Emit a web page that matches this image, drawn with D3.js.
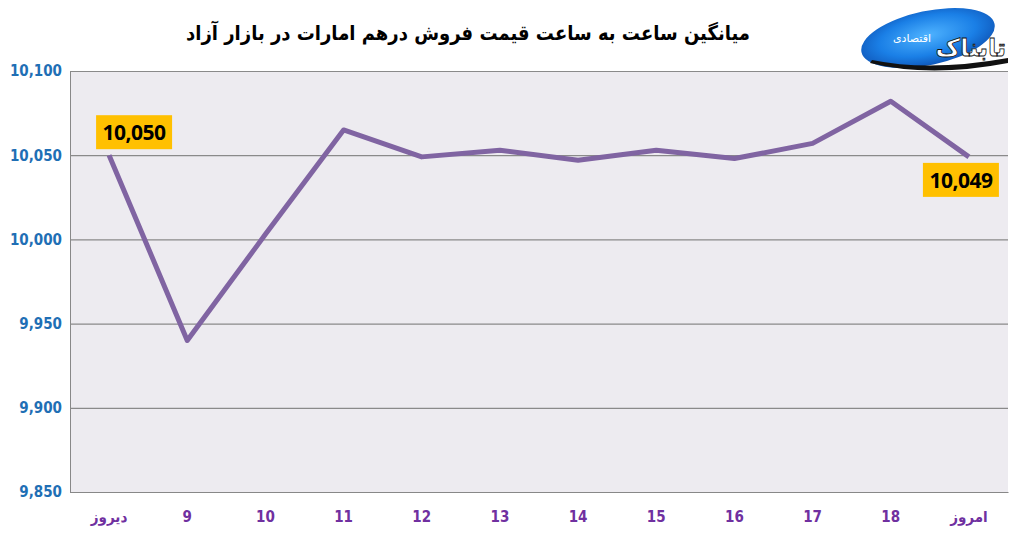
<!DOCTYPE html>
<html>
<head>
<meta charset="utf-8">
<script src="https://cdn.jsdelivr.net/npm/d3@7"></script>
<style>
  body { margin: 0; background: #fff; }
  #chart { width: 1015px; height: 536px; }
</style>
</head>
<body>
<div id="chart"></div>
<script>
// DATA
const categories = ["دیروز", "9", "10", "11", "12", "13", "14", "15", "16", "17", "18", "امروز"];
const values = [10050, 9940, 10003, 10065, 10049, 10053, 10047, 10053, 10048, 10057, 10082, 10049];
const yTicks = [9850, 9900, 9950, 10000, 10050, 10100];
const title = "میانگین ساعت به ساعت قیمت فروش درهم امارات در بازار آزاد";

const width = 1015, height = 536;
const margin = {top: 71, right: 7, bottom: 44, left: 70};

const svg = d3.select("#chart").append("svg")
  .attr("width", width)
  .attr("height", height);

// SCALES
const x = d3.scaleBand()
  .domain(categories)
  .range([margin.left, width - margin.right]);

const y = d3.scaleLinear()
  .domain([9850, 10100])
  .range([height - margin.bottom, margin.top]);

// PLOT BACKGROUND
svg.append("rect")
  .attr("x", margin.left)
  .attr("y", margin.top)
  .attr("width", width - margin.left - margin.right)
  .attr("height", height - margin.top - margin.bottom)
  .attr("fill", "#edebf0");

// GRID + Y AXIS
const yAxis = svg.append("g")
  .attr("transform", `translate(${margin.left},0)`)
  .call(d3.axisLeft(y)
    .tickValues(yTicks)
    .tickSize(-(width - margin.left - margin.right))
    .tickPadding(8)
    .tickFormat(d3.format(",")));
yAxis.select(".domain").attr("stroke", "#888");
yAxis.selectAll(".tick line").attr("stroke", "#8a8a8a").attr("stroke-width", 1.2);
yAxis.selectAll(".tick text")
  .attr("fill", "#1f6fb5")
  .attr("font-family", "'Liberation Sans Narrow', 'DejaVu Sans Condensed', sans-serif")
  .attr("font-weight", "bold")
  .attr("font-size", "15px");

// X AXIS
const xAxis = svg.append("g")
  .attr("transform", `translate(0,${height - margin.bottom})`)
  .call(d3.axisBottom(x).tickSize(0).tickPadding(19));
xAxis.select(".domain").attr("stroke", "#888").attr("stroke-width", 1.2);
xAxis.selectAll(".tick text")
  .attr("fill", "#7030a0")
  .attr("font-family", "'Liberation Sans Narrow', 'DejaVu Sans Condensed', sans-serif")
  .attr("font-weight", "bold")
  .attr("font-size", "15px");

// LINE
const line = d3.line()
  .x((d, i) => x(categories[i]) + x.bandwidth() / 2)
  .y(d => y(d));

svg.append("path")
  .datum(values)
  .attr("fill", "none")
  .attr("stroke", "#8064a2")
  .attr("stroke-width", 5)
  .attr("stroke-linejoin", "round")
  .attr("d", line);

// DATA LABELS (first and last)
const labels = [
  {i: 0, dx: 25, dy: -23},
  {i: values.length - 1, dx: -8, dy: 23}
];
labels.forEach(l => {
  const cx = x(categories[l.i]) + x.bandwidth() / 2 + l.dx;
  const cy = y(values[l.i]) + l.dy;
  const g = svg.append("g");
  g.append("rect")
    .attr("x", cx - 38)
    .attr("y", cy - 17)
    .attr("width", 76)
    .attr("height", 34)
    .attr("fill", "#ffc000");
  g.append("text")
    .attr("x", cx)
    .attr("y", cy + 8)
    .attr("text-anchor", "middle")
    .attr("font-family", "'Open Sans', 'Liberation Sans', sans-serif")
    .attr("font-weight", "bold")
    .attr("font-size", "21px")
    .attr("letter-spacing", "-0.5px")
    .attr("fill", "#000")
    .text(d3.format(",")(values[l.i]));
});

// TITLE
svg.append("text")
  .attr("x", 468)
  .attr("y", 40)
  .attr("text-anchor", "middle")
  .attr("direction", "rtl")
  .attr("font-family", "'DejaVu Sans Condensed', 'DejaVu Sans', sans-serif")
  .attr("font-weight", "bold")
  .attr("font-size", "20px")
  .attr("fill", "#000")
  .text(title);

// LOGO
const defs = svg.append("defs");
const grad = defs.append("radialGradient").attr("id", "logoGrad")
  .attr("cx", "50%").attr("cy", "45%").attr("r", "60%");
grad.append("stop").attr("offset", "0%").attr("stop-color", "#4fb3ff");
grad.append("stop").attr("offset", "60%").attr("stop-color", "#1a7fe6");
grad.append("stop").attr("offset", "100%").attr("stop-color", "#0d4fb0");
const logo = svg.append("g");
logo.append("ellipse")
  .attr("cx", 928).attr("cy", 38)
  .attr("rx", 68).attr("ry", 27)
  .attr("transform", "rotate(-12 928 38)")
  .attr("fill", "url(#logoGrad)");
logo.append("path")
  .attr("d", "M872,60 Q930,72 1008,58 L1008,63 Q930,78 870,63 Z")
  .attr("fill", "#111");
logo.append("text")
  .attr("x", 1006).attr("y", 56)
  .attr("text-anchor", "start")
  .attr("direction", "rtl")
  .attr("font-family", "'DejaVu Sans', sans-serif")
  .attr("font-weight", "bold")
  .attr("font-size", "24px")
  .attr("fill", "#fff")
  .attr("stroke", "#111")
  .attr("stroke-width", 0.8)
  .text("تابناک");
logo.append("text")
  .attr("x", 912).attr("y", 42)
  .attr("text-anchor", "middle")
  .attr("font-family", "'DejaVu Sans', sans-serif")
  .attr("font-size", "11px")
  .attr("fill", "#fff")
  .text("اقتصادی");
</script>
</body>
</html>
